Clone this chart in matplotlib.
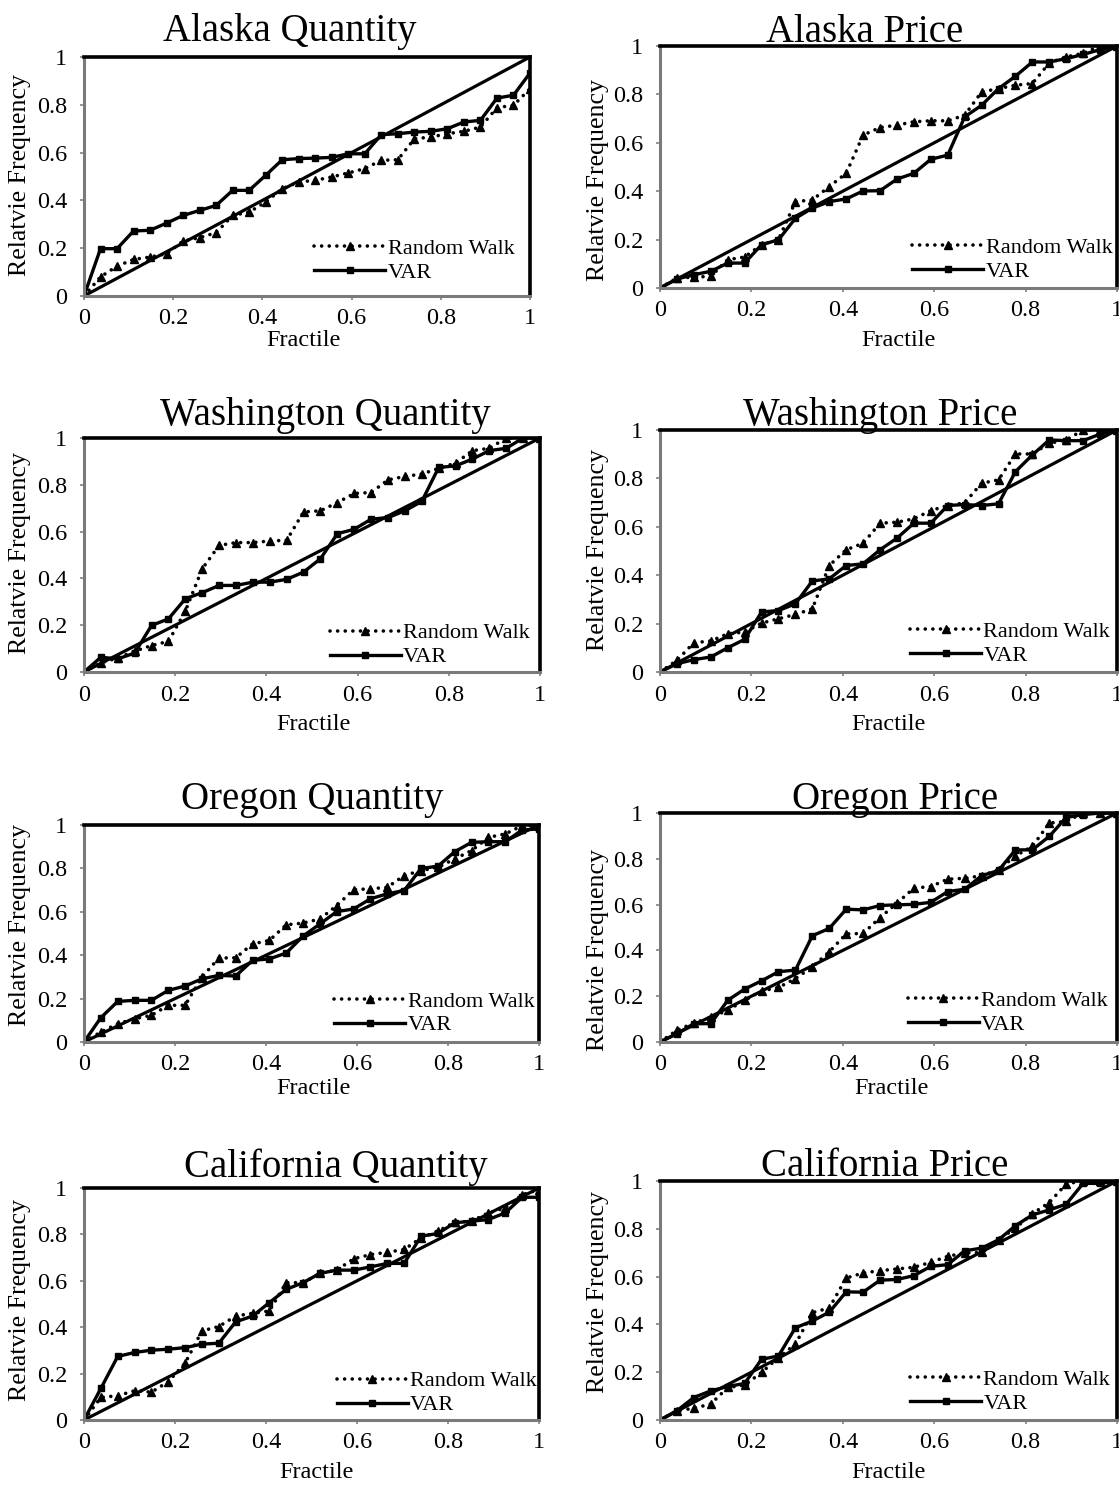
import numpy as np
import matplotlib
matplotlib.use("Agg")
import matplotlib.pyplot as plt
from matplotlib.lines import Line2D

plt.rcParams['font.family'] = ['Liberation Serif', 'DejaVu Serif']

# Fractile grid (28 points, k/27)
fractile = [k / 27 for k in range(28)]

titles = ["Alaska Quantity", "Alaska Price", "Washington Quantity", "Washington Price",
          "Oregon Quantity", "Oregon Price", "California Quantity", "California Price"]

# --- Alaska ---
ak_q_rw = [0, 0.08, 0.125, 0.153, 0.163, 0.177, 0.23, 0.244, 0.265, 0.337, 0.351, 0.393, 0.449, 0.477,
           0.484, 0.498, 0.515, 0.533, 0.568, 0.570, 0.658, 0.665, 0.679, 0.689, 0.707, 0.788, 0.798, 0.867]
ak_q_var = [0, 0.198, 0.198, 0.272, 0.275, 0.305, 0.337, 0.358, 0.379, 0.442, 0.442, 0.505, 0.570, 0.575,
            0.577, 0.58, 0.595, 0.595, 0.675, 0.679, 0.686, 0.689, 0.70, 0.728, 0.735, 0.828, 0.84, 0.933]
ak_p_rw = [0, 0.041, 0.045, 0.048, 0.117, 0.128, 0.179, 0.2, 0.357, 0.364, 0.419, 0.474, 0.632, 0.663,
           0.673, 0.687, 0.691, 0.691, 0.714, 0.81, 0.824, 0.838, 0.845, 0.93, 0.955, 0.97, 1.0, 1.0]
ak_p_var = [0, 0.037, 0.055, 0.069, 0.103, 0.103, 0.179, 0.199, 0.288, 0.33, 0.357, 0.368, 0.401, 0.402,
            0.45, 0.474, 0.532, 0.549, 0.707, 0.755, 0.824, 0.875, 0.934, 0.934, 0.948, 0.965, 0.985, 1.0]

# --- Washington ---
wa_q_rw = [0, 0.039, 0.06, 0.089, 0.113, 0.131, 0.26, 0.441, 0.541, 0.553, 0.553, 0.56, 0.563, 0.684,
           0.689, 0.724, 0.763, 0.767, 0.821, 0.836, 0.846, 0.87, 0.893, 0.946, 0.956, 1.0, 1.0, 1.0]
wa_q_var = [0, 0.063, 0.056, 0.081, 0.199, 0.227, 0.313, 0.339, 0.37, 0.37, 0.384, 0.384, 0.396, 0.427,
            0.484, 0.591, 0.61, 0.653, 0.66, 0.689, 0.729, 0.874, 0.881, 0.91, 0.946, 0.956, 1.0, 1.0]
wa_p_rw = [0, 0.048, 0.121, 0.128, 0.158, 0.165, 0.202, 0.22, 0.238, 0.261, 0.44, 0.505, 0.532, 0.615,
           0.619, 0.633, 0.667, 0.688, 0.699, 0.78, 0.794, 0.901, 0.901, 0.945, 0.959, 1.0, 1.0, 1.0]
wa_p_var = [0, 0.034, 0.051, 0.062, 0.1, 0.135, 0.248, 0.254, 0.282, 0.376, 0.385, 0.44, 0.447, 0.505,
            0.553, 0.615, 0.615, 0.688, 0.692, 0.688, 0.695, 0.828, 0.897, 0.959, 0.956, 0.956, 0.983, 1.0]

# --- Oregon ---
or_q_rw = [0, 0.046, 0.084, 0.107, 0.123, 0.169, 0.169, 0.299, 0.387, 0.388, 0.452, 0.468, 0.54, 0.548,
           0.567, 0.629, 0.702, 0.706, 0.713, 0.767, 0.79, 0.805, 0.844, 0.882, 0.943, 0.959, 0.997, 0.997]
or_q_var = [0, 0.112, 0.187, 0.192, 0.192, 0.238, 0.258, 0.291, 0.307, 0.304, 0.376, 0.383, 0.41, 0.488,
            0.544, 0.601, 0.613, 0.66, 0.683, 0.698, 0.8, 0.81, 0.877, 0.92, 0.923, 0.923, 0.977, 0.982]
or_p_rw = [0, 0.051, 0.083, 0.107, 0.139, 0.182, 0.223, 0.238, 0.277, 0.328, 0.394, 0.472, 0.474, 0.543,
           0.606, 0.672, 0.679, 0.711, 0.715, 0.726, 0.752, 0.813, 0.854, 0.956, 0.963, 1.0, 1.0, 1.0]
or_p_var = [0, 0.036, 0.08, 0.08, 0.182, 0.231, 0.267, 0.307, 0.314, 0.464, 0.496, 0.58, 0.577, 0.596,
            0.599, 0.601, 0.61, 0.657, 0.667, 0.726, 0.749, 0.839, 0.839, 0.898, 0.981, 0.993, 1.0, 1.0]

# --- California ---
ca_q_rw = [0, 0.097, 0.105, 0.126, 0.12, 0.165, 0.245, 0.384, 0.403, 0.448, 0.46, 0.47, 0.592, 0.592,
           0.632, 0.646, 0.695, 0.713, 0.723, 0.735, 0.785, 0.814, 0.852, 0.857, 0.893, 0.914, 0.971, 0.993]
ca_q_var = [0, 0.136, 0.274, 0.291, 0.301, 0.305, 0.312, 0.327, 0.331, 0.423, 0.448, 0.506, 0.563, 0.592,
            0.632, 0.646, 0.646, 0.66, 0.675, 0.675, 0.792, 0.804, 0.85, 0.857, 0.864, 0.893, 0.96, 0.96]
ca_p_rw = [0, 0.039, 0.049, 0.067, 0.136, 0.146, 0.199, 0.261, 0.317, 0.449, 0.469, 0.594, 0.615, 0.625,
           0.632, 0.639, 0.66, 0.685, 0.699, 0.701, 0.754, 0.803, 0.863, 0.91, 0.988, 1.0, 1.0, 1.0]
ca_p_var = [0, 0.039, 0.094, 0.122, 0.14, 0.153, 0.254, 0.268, 0.386, 0.414, 0.451, 0.536, 0.535, 0.585,
            0.588, 0.604, 0.643, 0.65, 0.708, 0.719, 0.754, 0.813, 0.858, 0.879, 0.903, 0.99, 0.99, 1.0]

series = [(ak_q_rw, ak_q_var), (ak_p_rw, ak_p_var), (wa_q_rw, wa_q_var), (wa_p_rw, wa_p_var),
          (or_q_rw, or_q_var), (or_p_rw, or_p_var), (ca_q_rw, ca_q_var), (ca_p_rw, ca_p_var)]

diag = [0, 1]
ticks = [0, 0.2, 0.4, 0.6, 0.8, 1]
tick_labels = ["0", "0.2", "0.4", "0.6", "0.8", "1"]

W, H = 1119, 1489
fig = plt.figure(figsize=(W / 100, H / 100), dpi=100)

# pixel boxes: x0, y0(top), x1, y1(bottom)
boxes = [(84, 57, 530, 296), (660, 46, 1117, 288),
         (84, 438, 540, 672), (660, 430, 1117, 672),
         (84, 825, 539, 1042), (660, 813, 1117, 1042),
         (84, 1188, 539, 1420), (660, 1181, 1117, 1420)]
title_pos = [(290, 32), (865, 32), (325, 415), (880, 415),
             (312, 799), (895, 799), (336, 1167), (885, 1167)]
xlabel_pos = [(303, 340), (898, 340), (313, 724), (888, 724),
              (313, 1088), (891, 1088), (316, 1473), (888, 1473)]
ylabel_pos = [(20, 175), (598, 180), (20, 553), (598, 550),
              (20, 925), (598, 950), (20, 1300), (598, 1292)]
legend_anchor = [(0.965, 0.055), (0.99, 0.025), (0.978, 0.02), (0.985, 0.025),
                 (0.99, 0.03), (0.98, 0.03), (0.995, 0.02), (0.985, 0.025)]

FS = 17.5
LFS = 16
dotted = (0, (0.01, 2.1))
for i, (box, (rw, var)) in enumerate(zip(boxes, series)):
    x0, y0, x1, y1 = box
    ax = fig.add_axes([x0 / W, 1 - y1 / H, (x1 - x0) / W, (y1 - y0) / H])
    ax.plot(diag, diag, color='black', lw=2.3, solid_capstyle='butt', zorder=2)
    ax.plot(fractile, rw, color='black', lw=2.6, linestyle=dotted, dash_capstyle='round',
            marker='^', markersize=5.5, zorder=3)
    ax.plot(fractile, var, color='black', lw=2.4, marker='s', markersize=4, zorder=4)
    ax.set_xlim(0, 1)
    ax.set_ylim(0, 1)
    ax.set_xticks(ticks)
    ax.set_xticklabels(tick_labels)
    ax.set_yticks(ticks)
    ax.set_yticklabels(tick_labels)
    ax.tick_params(axis='both', labelsize=FS, direction='out', length=3, width=1.2,
                   color='#808080')
    ax.tick_params(axis='x', pad=6)
    ax.tick_params(axis='y', pad=9)
    for s in ['left', 'bottom']:
        ax.spines[s].set_color('#7a7a7a')
        ax.spines[s].set_linewidth(2.2)
    for s in ['top', 'right']:
        ax.spines[s].set_color('black')
        ax.spines[s].set_linewidth(2.6)
    for sp in ax.spines.values():
        sp.set_zorder(5)
    handles = [Line2D([], [], color='black', lw=2.6, linestyle=dotted, dash_capstyle='round',
                      marker='^', markersize=5.5),
               Line2D([], [], color='black', lw=2.4, marker='s', markersize=4)]
    ax.legend(handles, ["Random Walk", "VAR"], loc='lower right',
              bbox_to_anchor=legend_anchor[i], frameon=False, fontsize=LFS,
              handlelength=3.2, handletextpad=0.1, labelspacing=0.15, borderpad=0,
              borderaxespad=0, numpoints=1)
    tx, ty = title_pos[i]
    fig.text(tx / W, 1 - ty / H, titles[i], ha='center', va='center', fontsize=28)
    lx, ly = xlabel_pos[i]
    fig.text(lx / W, 1 - ly / H, "Fractile", ha='center', va='center', fontsize=FS)
    yx, yy = ylabel_pos[i]
    fig.text(yx / W, 1 - yy / H, "Relatvie Frequency", ha='center', va='center',
             rotation=90, fontsize=18.6)

fig.savefig("out.png", dpi=100)
